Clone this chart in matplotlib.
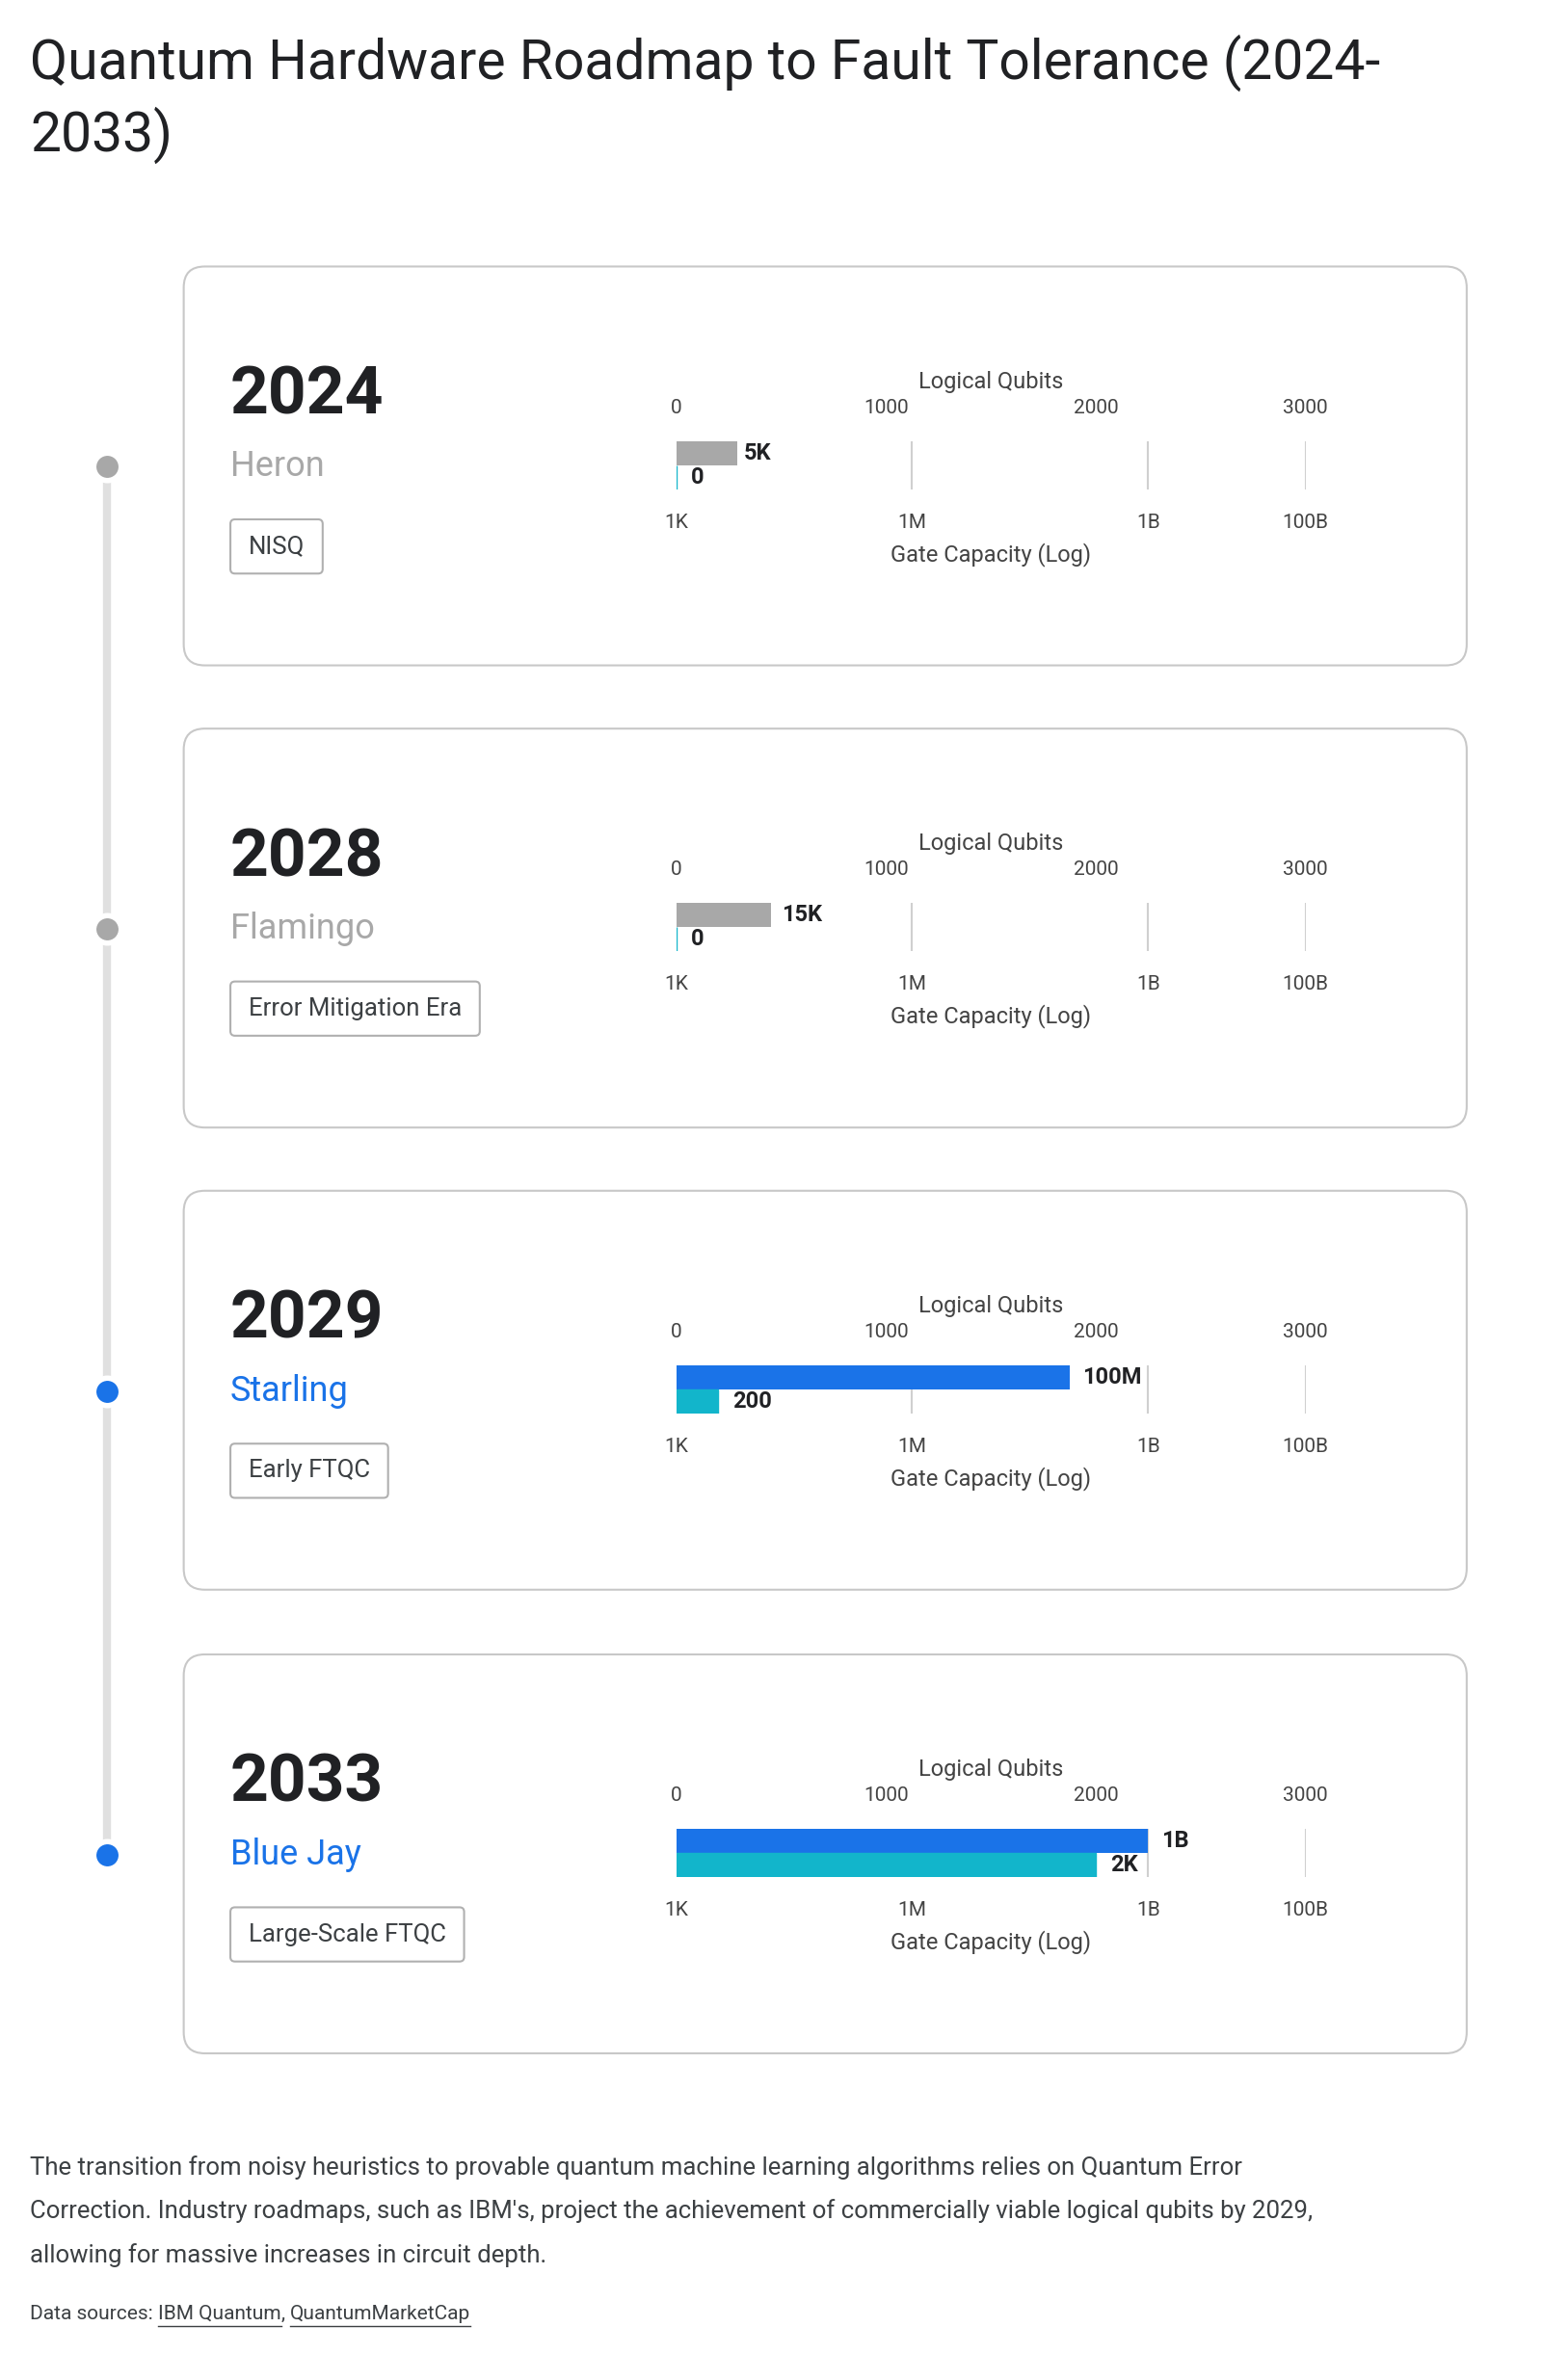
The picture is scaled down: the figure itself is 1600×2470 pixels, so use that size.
import matplotlib
matplotlib.use("Agg")
import matplotlib.pyplot as plt
from matplotlib.patches import FancyBboxPatch

plt.rcParams['font.family'] = ['Roboto', 'DejaVu Sans']

years = ["2024", "2028", "2029", "2033"]
names = ["Heron", "Flamingo", "Starling", "Blue Jay"]
eras = ["NISQ", "Error Mitigation Era", "Early FTQC", "Large-Scale FTQC"]
gate_capacity = [5e3, 15e3, 1e8, 1e9]
gate_labels = ["5K", "15K", "100M", "1B"]
logical_qubits = [0, 0, 200, 2000]
qubit_labels = ["0", "0", "200", "2K"]
active = [False, False, True, True]
qubit_ticks = [0, 1000, 2000, 3000]
gate_ticks = [1e3, 1e6, 1e9, 1e11]
gate_tick_labels = ["1K", "1M", "1B", "100B"]

W, H = 1024, 1581
fig = plt.figure(figsize=(16, 24.7), dpi=100)
bg = fig.add_axes([0, 0, 1, 1])
bg.set_xlim(0, W); bg.set_ylim(H, 0); bg.axis('off')

BLUE, TEAL, GRAY = "#1a73e8", "#12b5cb", "#a8a8a8"
DARK = "#202124"

bg.text(20, 42, "Quantum Hardware Roadmap to Fault Tolerance (2024-", fontsize=41, color=DARK, va='center')
bg.text(20, 90, "2033)", fontsize=41, color=DARK, va='center')

card_tops = [177, 484, 791, 1099]
dots = [t + 133 for t in card_tops]
bg.plot([71, 71], [dots[0], dots[-1]], color="#e0e0e0", lw=6, zorder=1, solid_capstyle='butt')

for i, top in enumerate(card_tops):
    col = BLUE if active[i] else GRAY
    bg.add_patch(FancyBboxPatch((122, top), 852, 265, boxstyle="round,pad=0,rounding_size=14",
                                fc="white", ec="#c8c8c8", lw=1.5, zorder=2))
    bg.scatter([71], [dots[i]], s=420, color=col, edgecolor="white", linewidth=4, zorder=3)
    bg.text(153, top + 86, years[i], fontsize=50, fontweight='bold', color=DARK, va='center', zorder=4)
    bg.text(153, top + 133, names[i], fontsize=26, color=col, va='center', zorder=4)
    t = bg.text(165, top + 186, eras[i], fontsize=18.5, color="#3c4043", va='center', zorder=4)
    fig.canvas.draw()
    bb = t.get_window_extent().transformed(bg.transData.inverted())
    x1 = max(bb.x0, bb.x1)
    bg.add_patch(FancyBboxPatch((153, top + 168), x1 - 153 + 12, 36, boxstyle="round,pad=0,rounding_size=3",
                                fc="none", ec="#b0b0b0", lw=1.5, zorder=4))

    # chart
    y0, y1 = top + 116, top + 148
    ax = fig.add_axes([449 / W, 1 - y1 / H, 418 / W, (y1 - y0) / H])
    ax.set_xscale('log'); ax.set_xlim(1e3, 1e11); ax.set_ylim(1, -1)
    for s in ax.spines.values(): s.set_visible(False)
    for g in gate_ticks[1:]:
        ax.axvline(g, color="#d0d0d0", lw=1.5, zorder=0)
    ax.barh([-0.5], [gate_capacity[i]], height=1.0, left=1e3 * 0.9999, color=col if active[i] else GRAY, zorder=2)
    ax.set_xticks(gate_ticks); ax.set_xticklabels(gate_tick_labels, fontsize=15, color="#444")
    ax.xaxis.set_minor_locator(matplotlib.ticker.NullLocator())
    ax.tick_params(axis='x', length=0, pad=18)
    ax.set_yticks([])
    ax.set_xlabel("Gate Capacity (Log)", fontsize=17, color="#444", labelpad=8)
    ax.text(gate_capacity[i] * 1.45, -0.5, gate_labels[i], fontsize=17, fontweight='bold', va='center', color=DARK)
    ax2 = ax.twiny()
    ax2.set_xlim(0, 3000); ax2.set_ylim(1, -1)
    for s in ax2.spines.values(): s.set_visible(False)
    ax2.barh([0.5], [logical_qubits[i]], height=1.0, color=TEAL, zorder=2, edgecolor=TEAL, linewidth=1)
    ax2.set_xticks(qubit_ticks); ax2.set_xticklabels([str(q) for q in qubit_ticks], fontsize=15, color="#444")
    ax2.tick_params(axis='x', length=0, pad=18)
    ax2.set_xlabel("Logical Qubits", fontsize=17, color="#444", labelpad=8)
    ax2.text(logical_qubits[i] + 70, 0.5, qubit_labels[i], fontsize=17, fontweight='bold', va='center', color=DARK)

para = ["The transition from noisy heuristics to provable quantum machine learning algorithms relies on Quantum Error",
        "Correction. Industry roadmaps, such as IBM's, project the achievement of commercially viable logical qubits by 2029,",
        "allowing for massive increases in circuit depth."]
for k, line in enumerate(para):
    bg.text(20, 1440 + 29 * k, line, fontsize=18.5, color="#3c4043", va='center')

fig.canvas.draw()
inv = bg.transData.inverted()
x = 20
for piece, link in [("Data sources: ", False), ("IBM Quantum", True), (", ", False), ("QuantumMarketCap", True)]:
    t = bg.text(x, 1537, piece, fontsize=15, color="#3c4043", va='center')
    fig.canvas.draw()
    bb = t.get_window_extent().transformed(inv)
    if link:
        bg.plot([bb.x0, bb.x1], [1545, 1545], color="#3c4043", lw=1)
    x = bb.x1

fig.savefig("out.png", dpi=100, facecolor="white")
